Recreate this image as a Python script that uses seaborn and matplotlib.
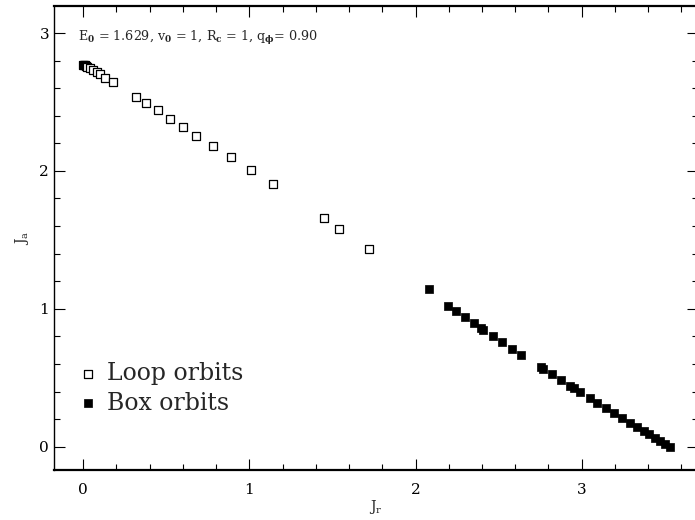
import matplotlib
matplotlib.use("Agg")
import matplotlib.pyplot as plt
import seaborn as sns
import pandas as pd
from matplotlib.ticker import MultipleLocator

# loop orbits (open squares)
loop_jr = [0.0, 0.005, 0.01, 0.015, 0.025, 0.04, 0.06, 0.08, 0.10, 0.13, 0.18,
           0.32, 0.38, 0.45, 0.52, 0.60, 0.68, 0.78, 0.89, 1.01, 1.14,
           1.45, 1.54, 1.72]
loop_ja = [2.77, 2.77, 2.765, 2.76, 2.755, 2.745, 2.73, 2.715, 2.70, 2.675, 2.645,
           2.535, 2.49, 2.44, 2.38, 2.32, 2.255, 2.18, 2.10, 2.01, 1.905,
           1.655, 1.58, 1.435]

# box orbits (filled squares)
box_jr = [2.083, 2.198, 2.246, 2.300, 2.354, 2.393, 2.407, 2.469, 2.523, 2.581,
          2.637, 2.758, 2.770, 2.820, 2.878, 2.931, 2.951, 2.989, 3.047, 3.095,
          3.149, 3.197, 3.244, 3.288, 3.332, 3.372, 3.408, 3.443, 3.473, 3.503,
          3.529]
box_ja = [1.141, 1.020, 0.982, 0.938, 0.895, 0.859, 0.848, 0.801, 0.757, 0.711,
          0.663, 0.576, 0.561, 0.525, 0.481, 0.440, 0.424, 0.397, 0.351, 0.315,
          0.278, 0.242, 0.206, 0.174, 0.141, 0.112, 0.090, 0.063, 0.041, 0.020,
          -0.004]

loops = pd.DataFrame({"Jr": loop_jr, "Ja": loop_ja})
boxes = pd.DataFrame({"Jr": box_jr, "Ja": box_ja})

sns.set_style("ticks")
plt.rcParams["font.family"] = ["DejaVu Serif"]
plt.rcParams["mathtext.fontset"] = "dejavuserif"

fig = plt.figure(figsize=(6.95, 5.2), dpi=100)
ax = fig.add_axes([54 / 695, 50 / 520, 644 / 695, 464 / 520])

sns.scatterplot(data=loops, x="Jr", y="Ja", marker="s", s=30, facecolor="white",
                edgecolor="black", linewidth=0.9, label="Loop orbits", ax=ax)
sns.scatterplot(data=boxes, x="Jr", y="Ja", marker="s", s=30, color="black",
                edgecolor="black", linewidth=0.5, label="Box orbits", ax=ax)

ax.set_xlim(-0.176, 3.7)
ax.set_ylim(-0.169, 3.196)

ax.xaxis.set_major_locator(MultipleLocator(1))
ax.xaxis.set_minor_locator(MultipleLocator(0.2))
ax.yaxis.set_major_locator(MultipleLocator(1))
ax.yaxis.set_minor_locator(MultipleLocator(0.2))
ax.tick_params(which="both", direction="in", top=True, right=True,
               width=0.8, colors="black", labelsize=11)
ax.tick_params(which="major", length=8)
ax.tick_params(which="minor", length=4)
ax.tick_params(axis="x", pad=9)

for side in ["top", "bottom"]:
    ax.spines[side].set_linewidth(1.6)
for side in ["left", "right"]:
    ax.spines[side].set_linewidth(1.0)
for sp in ax.spines.values():
    sp.set_color("black")

ax.set_xlabel(r"J$_\mathrm{r}$", fontsize=10, labelpad=1)
ax.set_ylabel(r"J$_\mathrm{a}$", fontsize=10, labelpad=6)

ax.text(0.037, 0.925,
        r"E$_\mathbf{0}$ = 1.629, v$_\mathbf{0}$ = 1, R$_\mathbf{c}$ = 1, q$_\mathbf{\phi}$= 0.90",
        transform=ax.transAxes, fontsize=9.2, ha="left", va="baseline")

ax.legend(loc="lower left", bbox_to_anchor=(0.02, 0.099), frameon=False,
          fontsize=17, handletextpad=0.3, labelspacing=0.29, borderaxespad=0,
          borderpad=0.4, handlelength=1.0, markerscale=1.0)

fig.savefig("out.png", dpi=100)
